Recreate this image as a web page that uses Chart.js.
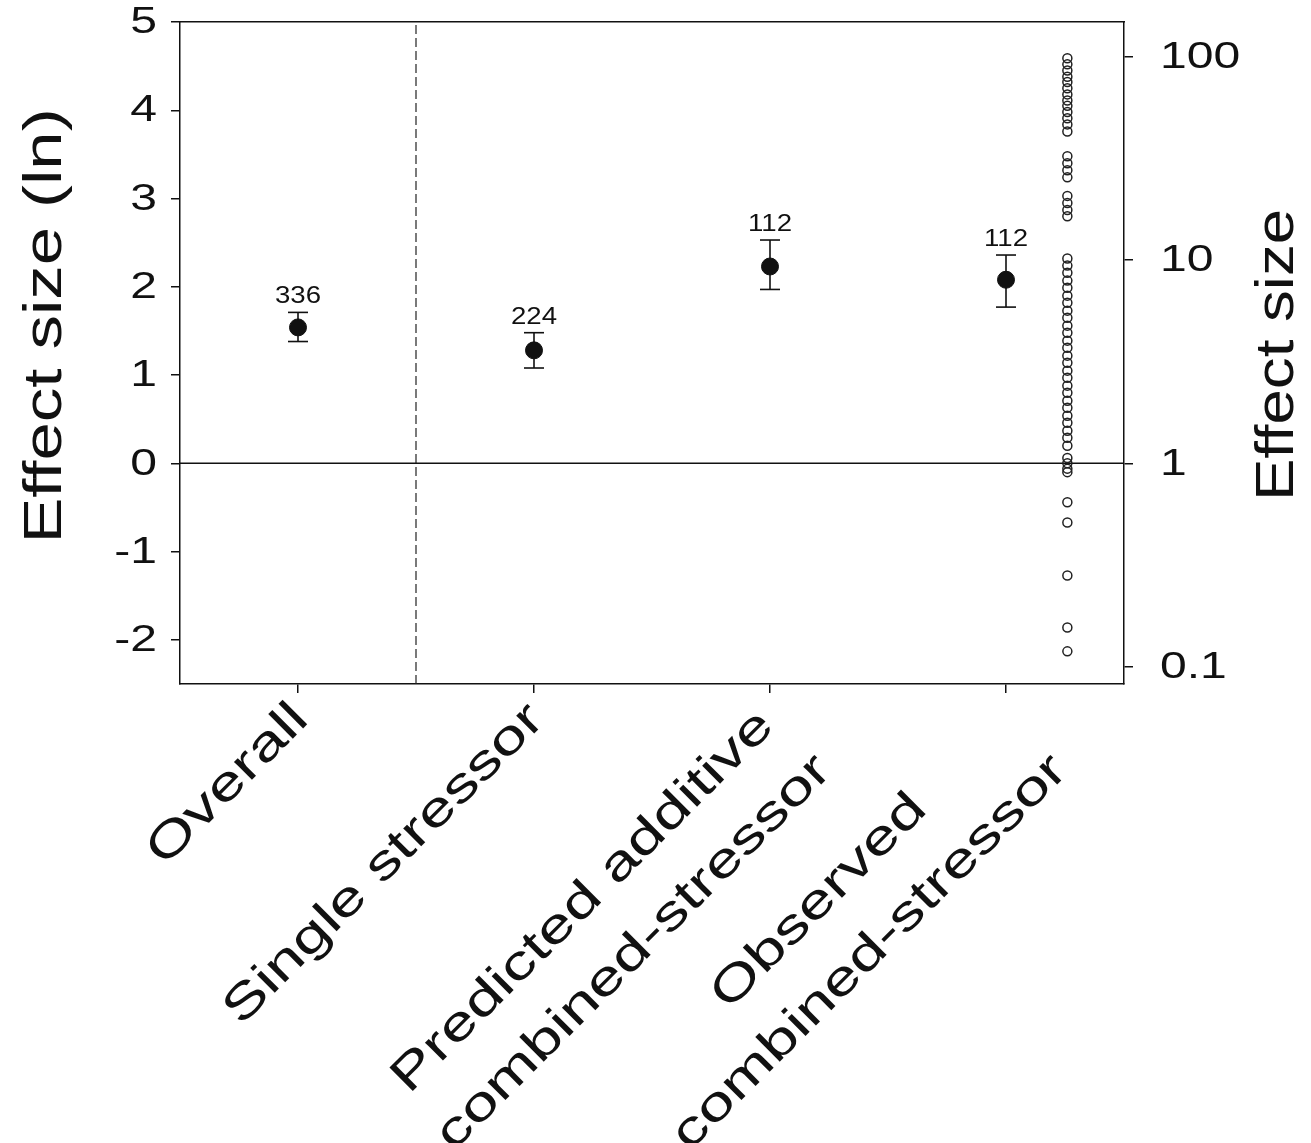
<!DOCTYPE html>
<html>
<head>
<meta charset="utf-8">
<script src="https://cdn.jsdelivr.net/npm/chart.js@4.4.1/dist/chart.umd.min.js"></script>
<style>
  html, body { margin: 0; padding: 0; background: #ffffff; }
  #wrap { width: 1311px; height: 1143px; }
</style>
</head>
<body>
<div id="wrap"><canvas id="c" width="1311" height="1143"></canvas></div>
<script>
// ---- data ----
const categories = ["Overall", "Single stressor", ["Predicted additive", "combined-stressor"], ["Observed", "combined-stressor"]];
const catPos = [1, 2, 3, 4];
const means = [1.54, 1.28, 2.23, 2.08];
const lower = [1.38, 1.08, 1.97, 1.77];
const upper = [1.71, 1.48, 2.53, 2.36];
const nLabels = ["336", "224", "112", "112"];
const observedX = 4.26;
const observedValues = [
  4.59, 4.52, 4.45, 4.38, 4.32, 4.25, 4.18, 4.11, 4.05, 3.98, 3.91, 3.84, 3.76,
  3.48, 3.40, 3.32, 3.24,
  3.03, 2.95, 2.87, 2.80,
  2.32, 2.24, 2.16, 2.07, 1.99, 1.90, 1.82, 1.73, 1.65, 1.56, 1.48, 1.39, 1.31,
  1.22, 1.14, 1.05, 0.97, 0.88, 0.80, 0.71, 0.63, 0.54, 0.46, 0.37, 0.29, 0.20,
  0.06, 0.00, -0.06, -0.10,
  -0.44, -0.67, -1.27, -1.86, -2.13
];
const leftTicks = [-2, -1, 0, 1, 2, 3, 4, 5];
const rightTicks = [0.1, 1, 10, 100];
const yRange = [-2.5, 5];
const xRange = [0.5, 4.5];
const dividerX = 1.5;
const leftTitle = "Effect size (ln)";
const rightTitle = "Effect size";

// ---- build datasets ----
const FONT = "'Liberation Sans', Arial, sans-serif";
const errData = [];
catPos.forEach((p, i) => {
  errData.push({ x: p, y: lower[i] }, { x: p, y: upper[i] }, { x: p, y: null });
});

const datasets = [
  {
    label: "mean",
    data: catPos.map((p, i) => ({ x: p, y: means[i] })),
    pointRadius: 8.5,
    pointBackgroundColor: "#111",
    pointBorderColor: "#111",
    pointBorderWidth: 1,
    showLine: false,
    order: 0
  },
  {
    label: "observed",
    data: observedValues.map(v => ({ x: observedX, y: v })),
    pointRadius: 4.5,
    pointStyle: "circle",
    pointBackgroundColor: "rgba(255,255,255,0)",
    pointBorderColor: "#222",
    pointBorderWidth: 1.5,
    showLine: false,
    order: 1
  },
  {
    label: "errors",
    data: errData,
    showLine: true,
    spanGaps: false,
    borderColor: "#111",
    borderWidth: 1.6,
    pointStyle: "line",
    pointRadius: 10,
    pointBorderColor: "#111",
    pointBorderWidth: 1.6,
    order: 2
  },
  {
    label: "zero",
    data: [{ x: xRange[0], y: 0 }, { x: xRange[1], y: 0 }],
    showLine: true,
    borderColor: "#111",
    borderWidth: 1.5,
    pointRadius: 0,
    order: 3
  },
  {
    label: "divider",
    data: [{ x: dividerX, y: yRange[0] }, { x: dividerX, y: yRange[1] }],
    showLine: true,
    borderColor: "#222",
    borderWidth: 1.2,
    borderDash: [9, 4],
    pointRadius: 0,
    order: 4
  }
];

// text drawn with the wide letterforms of the reference
function drawText(ctx, text, x, y, o) {
  ctx.save();
  ctx.translate(x, y);
  if (o.rot) ctx.rotate(o.rot);
  ctx.scale(o.sx || 1, 1);
  ctx.font = o.size + "px " + FONT;
  ctx.textAlign = o.align || "center";
  ctx.textBaseline = o.baseline || "middle";
  ctx.fillStyle = "#111";
  ctx.fillText(text, o.dx || 0, o.dy || 0);
  ctx.restore();
}

const CAT_SIZE = 48, CAT_SX = 1.36, CAT_LINE = 72;

const textPlugin = {
  id: "texts",
  afterDraw(chart) {
    const ctx = chart.ctx;
    const xs = chart.scales.x, ys = chart.scales.y, y2 = chart.scales.y2;
    // count labels
    catPos.forEach((p, i) => {
      drawText(ctx, nLabels[i], xs.getPixelForValue(p), ys.getPixelForValue(upper[i]) - 9,
        { size: 23, sx: 1.2, baseline: "alphabetic" });
    });
    // left tick labels
    leftTicks.forEach(v => {
      drawText(ctx, String(v), xs.left - 23, ys.getPixelForValue(v) + 1,
        { size: 37, sx: 1.3, align: "right" });
    });
    // right tick labels
    rightTicks.forEach(v => {
      drawText(ctx, String(v), xs.right + 36, y2.getPixelForValue(v) + 1,
        { size: 37, sx: 1.3, align: "left" });
    });
    // category labels (rotated 45°, lines centred, block right-aligned to tick)
    ctx.save();
    ctx.font = CAT_SIZE + "px " + FONT;
    catPos.forEach((p, i) => {
      const lines = [].concat(categories[i]);
      const maxW = Math.max(...lines.map(l => ctx.measureText(l).width));
      lines.forEach((ln, k) => {
        drawText(ctx, ln, xs.getPixelForValue(p) + 3, ys.bottom + 28, {
          size: CAT_SIZE, sx: CAT_SX, align: "center", rot: -Math.PI / 4,
          dx: -maxW / 2, dy: k * CAT_LINE
        });
      });
    });
    ctx.restore();
    // axis titles
    drawText(ctx, leftTitle, 46, 326, { size: 53, sx: 1.3, rot: -Math.PI / 2 });
    drawText(ctx, rightTitle, 1278, 355, { size: 53, sx: 1.2, rot: -Math.PI / 2 });
  }
};

const tickGrid = { drawOnChartArea: false, drawTicks: true, tickLength: 9, color: "#111", lineWidth: 1.5 };
const border = { display: true, color: "#111", width: 1.5 };

new Chart(document.getElementById("c"), {
  type: "scatter",
  data: { datasets },
  plugins: [textPlugin],
  options: {
    responsive: false,
    devicePixelRatio: 1,
    animation: false,
    layout: { padding: 0 },
    plugins: { legend: { display: false }, tooltip: { enabled: false } },
    scales: {
      x: {
        type: "linear",
        position: "bottom",
        min: xRange[0],
        max: xRange[1],
        afterBuildTicks: s => { s.ticks = catPos.map(v => ({ value: v })); },
        afterFit: s => { s.height = 1143 - 684; s.paddingLeft = 0; s.paddingRight = 0; },
        ticks: { display: false },
        grid: tickGrid,
        border
      },
      x2: {
        type: "linear",
        position: "top",
        min: xRange[0],
        max: xRange[1],
        ticks: { display: false },
        grid: { drawOnChartArea: false, drawTicks: false },
        afterFit: s => { s.height = 22; s.paddingLeft = 0; s.paddingRight = 0; },
        border
      },
      y: {
        type: "linear",
        position: "left",
        min: yRange[0],
        max: yRange[1],
        afterBuildTicks: s => { s.ticks = leftTicks.map(v => ({ value: v })); },
        afterFit: s => { s.width = 180; s.paddingTop = 0; s.paddingBottom = 0; },
        ticks: { display: false },
        grid: tickGrid,
        border
      },
      y2: {
        type: "logarithmic",
        position: "right",
        min: Math.exp(yRange[0]),
        max: Math.exp(yRange[1]),
        afterBuildTicks: s => { s.ticks = rightTicks.map(v => ({ value: v })); },
        afterFit: s => { s.width = 1311 - 1124; s.paddingTop = 0; s.paddingBottom = 0; },
        ticks: { display: false },
        grid: tickGrid,
        border
      }
    }
  }
});
</script>
</body>
</html>
